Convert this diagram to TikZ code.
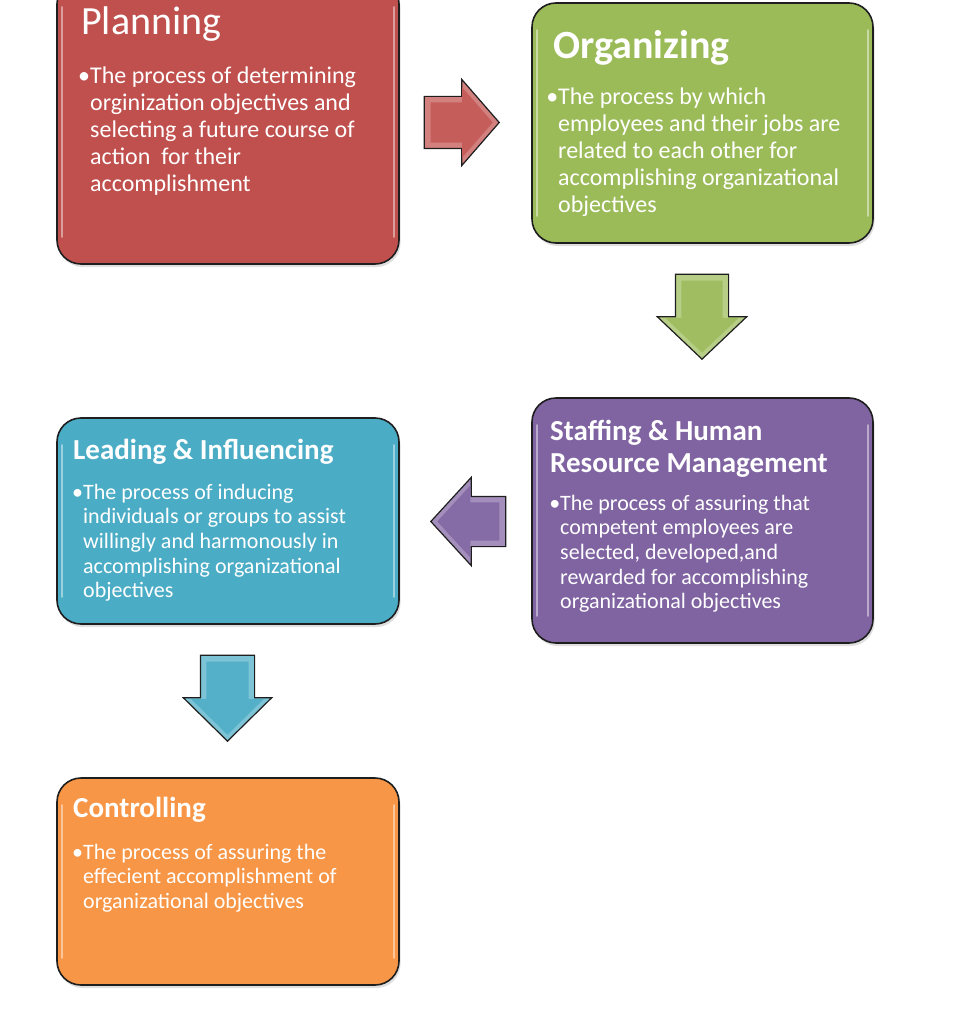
\documentclass[tikz,border=0pt]{standalone}
\usepackage{fontspec}
\setmainfont{Carlito}
\usetikzlibrary{shapes.arrows,shadows,calc}
\definecolor{planC}{HTML}{C0504D}
\definecolor{orgC}{HTML}{9BBB59}
\definecolor{staffC}{HTML}{8064A2}
\definecolor{leadC}{HTML}{4BACC6}
\definecolor{ctrlC}{HTML}{F79646}
\definecolor{edgeC}{HTML}{1E1E1E}
\begin{document}
\begin{tikzpicture}[x=1pt,y=-1pt,
  panel/.style={rectangle, draw=edgeC, line width=1.6pt, rounded corners=24pt,
    inner sep=0pt, drop shadow={shadow xshift=1.5pt, shadow yshift=-3pt, opacity=0.25}},
  hl/.style={white, opacity=0.45, line width=2pt, line cap=round},
  ttl/.style={anchor=base west, inner sep=0pt, text=white, align=left},
  bigttl/.style={ttl, font=\fontsize{40}{44}\selectfont},
  midttl/.style={ttl, font=\fontsize{29}{32}\selectfont\bfseries},
  bigbody/.style={ttl, font=\fontsize{24}{27}\selectfont},
  body/.style={ttl, font=\fontsize{22}{24.7}\selectfont},
  barrow/.style={single arrow, anchor=tip, draw=edgeC, line width=1.2pt, inner xsep=0pt,
    single arrow head indent=0pt},
  barrowin/.style={single arrow, anchor=tip, inner xsep=0pt, single arrow head indent=0pt},
]
\useasboundingbox (0,0) rectangle (968,1024);
\clip (0,0) rectangle (968,1024);

% panels
\node[panel, fill=planC, minimum width=342pt, minimum height=284pt] (plan) at (228,122) {};
\node[panel, fill=orgC, minimum width=341pt, minimum height=240pt] (org) at (702.5,123) {};
\node[panel, fill=staffC, minimum width=341pt, minimum height=245pt] (staff) at (702.5,520.5) {};
\node[panel, fill=leadC, minimum width=342pt, minimum height=206pt] (lead) at (228,521) {};
\node[panel, fill=ctrlC, minimum width=342pt, minimum height=207pt] (ctrl) at (228,881.5) {};

% glossy highlights
\foreach \n in {plan,org,staff,lead,ctrl}{
  \draw[hl] ($(\n.north west)+(6,28)$) -- ($(\n.south west)+(6,-28)$);
  \draw[hl] ($(\n.north east)+(-6,28)$) -- ($(\n.south east)+(-6,-28)$);
}

% texts (multi-line nodes are placed by the baseline of their last line)
\node[bigttl] (planT) at (81,35) {Planning};
\node[bigbody] (planB) at (90,192) {\llap{•}The process of determining\\orginization objectives and\\selecting a future course of\\action \ for their\\accomplishment};

\node[bigttl, font=\fontsize{40}{44}\selectfont\bfseries] (orgT) at (553,59) {Organizing};
\node[bigbody] (orgB) at (558,213) {\llap{•}The process by which\\employees and their jobs are\\related to each other for\\accomplishing organizational\\objectives};

\node[midttl] (staffT) at (550,472) {Staffing \& Human\\Resource Management};
\node[body] (staffB) at (560,608.8) {\llap{•}The process of assuring that\\competent employees are\\selected, developed,and\\rewarded for accomplishing\\organizational objectives};

\node[midttl] (leadT) at (73,459) {Leading \& Influencing};
\node[body] (leadB) at (83,597.8) {\llap{•}The process of inducing\\individuals or groups to assist\\willingly and harmonously in\\accomplishing organizational\\objectives};

\node[midttl] (ctrlT) at (73,817) {Controlling};
\node[body] (ctrlB) at (83,908.4) {\llap{•}The process of assuring the\\effecient accomplishment of\\organizational objectives};

% block arrows (placed by their tips)
\node[barrow, fill=planC!72!white, inner ysep=25.5pt, minimum height=75pt,
  single arrow head extend=17pt, single arrow tip angle=98] (a1) at (500,122.5) {};
\node[barrowin, fill=planC!92!white, inner ysep=20pt, minimum height=62pt,
  single arrow head extend=15pt, single arrow tip angle=98] (a1in) at (493,122.5) {};

\node[barrow, rotate=270, fill=orgC!72!white, inner ysep=26pt, minimum height=85pt,
  single arrow head extend=18pt, single arrow tip angle=93] (a2) at (702,360) {};
\node[barrowin, rotate=270, fill=orgC!95!white, inner ysep=20.5pt, minimum height=72pt,
  single arrow head extend=16pt, single arrow tip angle=93] (a2in) at (702,353) {};

\node[barrow, rotate=180, fill=staffC!72!white, inner ysep=24.5pt, minimum height=75pt,
  single arrow head extend=19pt, single arrow tip angle=95] (a3) at (430,521.5) {};
\node[barrowin, rotate=180, fill=staffC!95!white, inner ysep=19pt, minimum height=62pt,
  single arrow head extend=17pt, single arrow tip angle=95] (a3in) at (437,521.5) {};

\node[barrow, rotate=270, fill=leadC!72!white, inner ysep=26.5pt, minimum height=86pt,
  single arrow head extend=17pt, single arrow tip angle=91] (a4) at (227.5,742) {};
\node[barrowin, rotate=270, fill=leadC!95!white, inner ysep=21pt, minimum height=73pt,
  single arrow head extend=15pt, single arrow tip angle=91] (a4in) at (227.5,735) {};
\end{tikzpicture}
\end{document}
